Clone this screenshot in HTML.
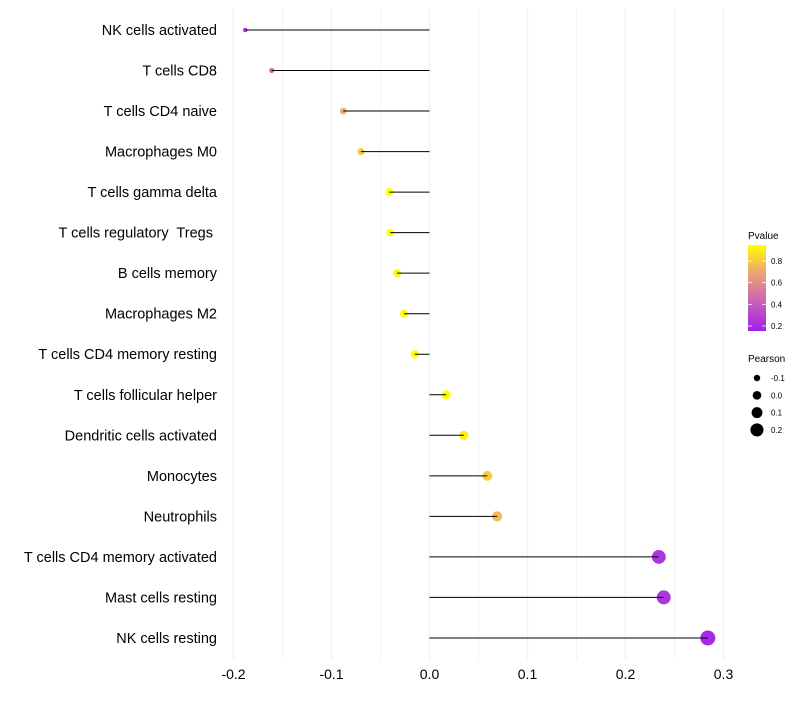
<!DOCTYPE html>
<html><head><meta charset="utf-8"><style>
body{margin:0;background:#fff;font-family:"Liberation Sans",sans-serif}
svg text{font-family:"Liberation Sans",sans-serif;white-space:pre}
</style></head><body>
<svg id="chart" width="800" height="700"></svg>
<script>
const categories=["NK cells activated","T cells CD8","T cells CD4 naive","Macrophages M0","T cells gamma delta","T cells regulatory  Tregs ","B cells memory","Macrophages M2","T cells CD4 memory resting","T cells follicular helper","Dendritic cells activated","Monocytes","Neutrophils","T cells CD4 memory activated","Mast cells resting","NK cells resting"];
const pearson=[-0.188,-0.161,-0.088,-0.070,-0.041,-0.040,-0.033,-0.026,-0.015,0.017,0.035,0.059,0.069,0.234,0.239,0.284];
const pvalues=[0.2,0.4,0.7,0.8,0.95,0.95,0.92,0.93,0.97,0.97,0.9,0.8,0.75,0.2,0.2,0.15];
const xTicks=[-0.2,-0.1,0.0,0.1,0.2,0.3];
const xTickLabels=["-0.2","-0.1","0.0","0.1","0.2","0.3"];
const colorTicks=[0.2,0.4,0.6,0.8];
const sizeTicks=[-0.1,0.0,0.1,0.2];
const NS="http://www.w3.org/2000/svg";
const svg=document.getElementById('chart');
function x(v){return 429.5+(v)*980;}
function y(i){return 30+i*40.53;}
function rad(v){return 2.2+(v+0.19)/0.475*5.3;}
function lerp(a,b,t){return Math.round(a+(b-a)*t);}
const stops=[[0.11,[160,32,240]],[0.45,[210,110,170]],[0.7,[238,170,110]],[0.95,[255,255,0]]];
function col(p){p=Math.max(0.11,Math.min(0.95,p));for(let k=0;k<stops.length-1;k++){const [a,ca]=stops[k],[b,cb]=stops[k+1];if(p<=b){const t=(p-a)/(b-a);return `rgb(${lerp(ca[0],cb[0],t)},${lerp(ca[1],cb[1],t)},${lerp(ca[2],cb[2],t)})`;}}return 'rgb(255,255,0)';}
function mk(tag,attrs,txt){const e=document.createElementNS(NS,tag);for(const k in attrs)e.setAttribute(k,attrs[k]);if(txt!==undefined)e.textContent=txt;svg.appendChild(e);return e;}
for(let v=-0.2;v<=0.301;v+=0.05){const g=mk('line',{x1:x(v),x2:x(v),y1:8,y2:660,stroke:'#f3f3f3','stroke-width':Math.abs(Math.round(v*100)%10)<1?1.5:1});

}
xTicks.forEach((v,i)=>{const t=mk('text',{x:x(v),y:679,'text-anchor':'middle','font-size':14,fill:'#000'},xTickLabels[i]);

});
categories.forEach((c,i)=>{
const t=mk('text',{x:217,y:y(i)+5,'text-anchor':'end','font-size':14.5,fill:'#000'},c);


const p=mk('circle',{cx:x(pearson[i]),cy:y(i),r:rad(pearson[i]),fill:col(pvalues[i])});


const l=mk('line',{x1:x(0),x2:x(pearson[i]),y1:y(i),y2:y(i),stroke:'#000','stroke-width':1});


});
const defs=mk('defs',{});
const lg=document.createElementNS(NS,'linearGradient');lg.setAttribute('id','gr');lg.setAttribute('x1','0');lg.setAttribute('y1','1');lg.setAttribute('x2','0');lg.setAttribute('y2','0');defs.appendChild(lg);
for(let k=0;k<=10;k++){const s=document.createElementNS(NS,'stop');const p=0.11+k*0.084;s.setAttribute('offset',k/10);s.setAttribute('stop-color',col(p));lg.appendChild(s);}
const tt=mk('text',{x:748,y:239,'font-size':10,fill:'#000'},'Pvalue');


const bar=mk('rect',{x:748,y:245,width:18,height:86,fill:'url(#gr)'});


colorTicks.forEach(v=>{const yy=326-(v-0.2)/0.6*65;
mk('line',{x1:748,x2:752,y1:yy,y2:yy,stroke:'#fff','stroke-width':0.8});mk('line',{x1:762,x2:766,y1:yy,y2:yy,stroke:'#fff','stroke-width':0.8});
const t=mk('text',{x:771,y:yy+3,'font-size':8,fill:'#000'},v.toFixed(1));

});
const st=mk('text',{x:748,y:362,'font-size':10,fill:'#000'},'Pearson');


sizeTicks.forEach((v,i)=>{const yy=378+i*17.3;
const c=mk('circle',{cx:757,cy:yy,r:rad(v),fill:'#000'});


const t=mk('text',{x:771,y:yy+3,'font-size':8,fill:'#000'},v.toFixed(1));

});
</script>
</body></html>
